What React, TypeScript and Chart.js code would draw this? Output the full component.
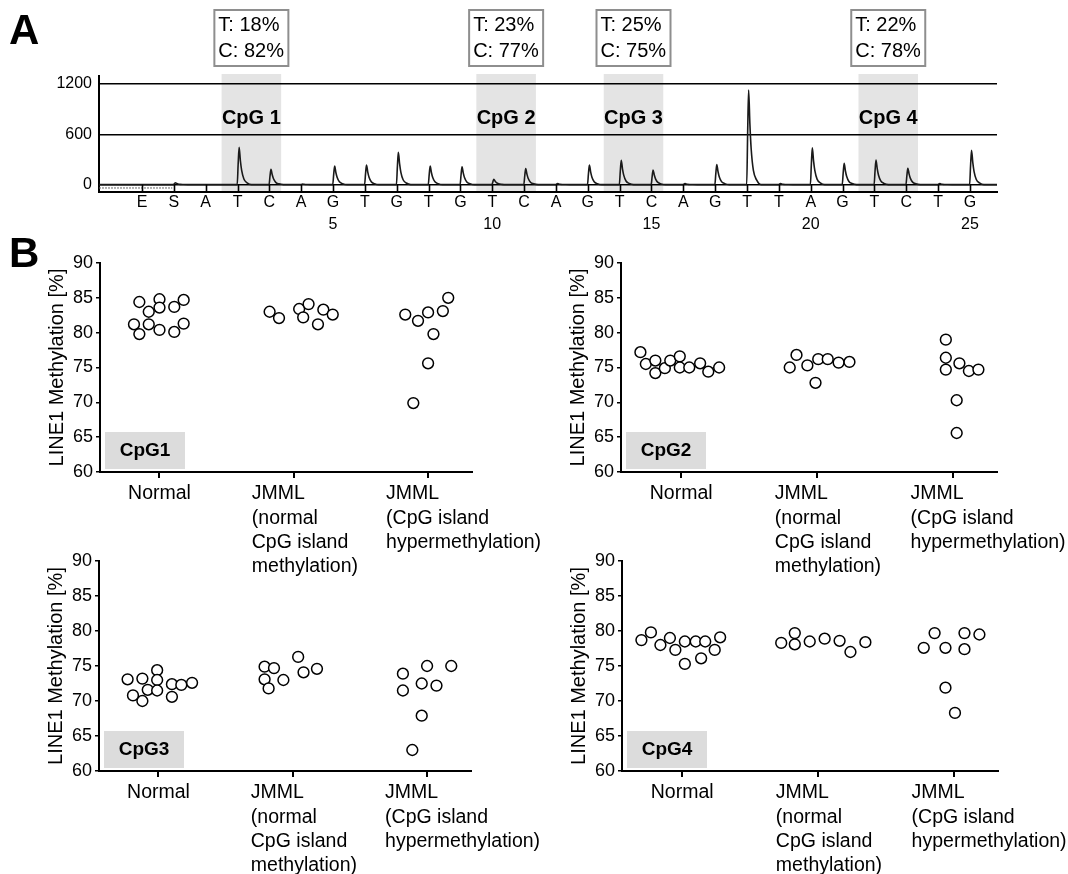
import React, { useEffect, useRef } from 'react';
import { Chart, registerables } from 'chart.js';

Chart.register(...registerables);

const FONT = '"Liberation Sans", Arial, Helvetica, sans-serif';

// ---------------- Panel A : pyrogram ----------------
const dispensations = ['E', 'S', 'A', 'T', 'C', 'A', 'G', 'T', 'G', 'T', 'G', 'T', 'C', 'A', 'G', 'T', 'C', 'A', 'G', 'T', 'T', 'A', 'G', 'T', 'C', 'T', 'G'];
const dispensationNumbers = ['', '', '', '', '', '', '5', '', '', '', '', '10', '', '', '', '', '15', '', '', '', '', '20', '', '', '', '', '25'];
const peakHeights = [0, 22, 0, 445, 183, 6, 222, 234, 385, 222, 214, 63, 192, 12, 234, 290, 174, 12, 240, 1128, 12, 438, 254, 293, 196, 12, 411];
const pyroYTicks = [0, 600, 1200];
const cpgSiteIndex = [3, 11, 15, 23];
const cpgSiteLabels = ['CpG 1', 'CpG 2', 'CpG 3', 'CpG 4'];
const cpgT = [18, 23, 25, 22];
const cpgC = [82, 77, 75, 78];
// shape template of one pyrosequencing peak (offset in dispensations, fraction of peak height)
const peakProfileOffsets = [-0.01, 0.02, 0.05, 0.09, 0.13, 0.2, 0.3, 0.44];
const peakProfileShape = [0, 0.55, 1, 0.64, 0.38, 0.15, 0.05, 0];

// ---------------- Panel B : dot plots ----------------
const groupLabelLines = [
  ['Normal'],
  ['JMML', '(normal', 'CpG island', 'methylation)'],
  ['JMML', '(CpG island', 'hypermethylation)'],
];
const cpgPanelLabels = ['CpG1', 'CpG2', 'CpG3', 'CpG4'];

const cpg1Normal = [84.4, 81.2, 79.8, 83.0, 81.2, 84.8, 83.6, 80.4, 83.7, 80.1, 84.7, 81.3];
const cpg1NormalJitter = [-0.15, -0.19, -0.15, -0.08, -0.08, 0, 0, 0, 0.11, 0.11, 0.18, 0.18];
const cpg1JmmlNormal = [83.0, 82.1, 83.4, 82.2, 84.1, 81.2, 83.3, 82.6];
const cpg1JmmlNormalJitter = [-0.18, -0.11, 0.04, 0.07, 0.11, 0.18, 0.22, 0.29];
const cpg1JmmlHyper = [82.6, 81.7, 82.9, 79.8, 75.6, 69.9, 83.1, 85.0];
const cpg1JmmlHyperJitter = [-0.17, -0.075, 0, 0.04, 0, -0.11, 0.11, 0.15];

const cpg2Normal = [77.2, 75.5, 76.0, 74.2, 74.9, 76.0, 76.6, 75.0, 75.0, 75.6, 74.4, 75.0];
const cpg2NormalJitter = [-0.3, -0.26, -0.19, -0.19, -0.12, -0.08, -0.01, -0.01, 0.06, 0.14, 0.2, 0.28];
const cpg2JmmlNormal = [75.0, 76.8, 75.3, 72.8, 76.2, 76.2, 75.7, 75.8];
const cpg2JmmlNormalJitter = [-0.2, -0.15, -0.07, -0.01, 0.01, 0.08, 0.16, 0.24];
const cpg2JmmlHyper = [79.0, 76.4, 74.7, 75.6, 74.5, 74.7, 70.3, 65.6];
const cpg2JmmlHyperJitter = [-0.05, -0.05, -0.05, 0.05, 0.12, 0.19, 0.03, 0.03];

const cpg3Normal = [73.1, 70.8, 73.2, 70.0, 71.6, 74.4, 73.0, 71.5, 72.4, 70.6, 72.3, 72.6];
const cpg3NormalJitter = [-0.23, -0.19, -0.12, -0.12, -0.08, -0.01, -0.01, -0.01, 0.1, 0.1, 0.17, 0.25];
const cpg3JmmlNormal = [74.9, 74.7, 73.1, 71.8, 73.0, 76.3, 74.1, 74.6];
const cpg3JmmlNormalJitter = [-0.21, -0.14, -0.21, -0.18, -0.07, 0.04, 0.08, 0.18];
const cpg3JmmlHyper = [73.9, 71.5, 75.0, 72.5, 72.2, 75.0, 67.9, 63.0];
const cpg3JmmlHyperJitter = [-0.18, -0.18, 0, -0.04, 0.07, 0.18, -0.04, -0.11];

const cpg4Normal = [78.7, 79.8, 78.0, 79.0, 77.3, 78.5, 75.3, 78.5, 76.1, 78.5, 77.3, 79.1];
const cpg4NormalJitter = [-0.3, -0.23, -0.16, -0.09, -0.05, 0.02, 0.02, 0.1, 0.14, 0.17, 0.24, 0.28];
const cpg4JmmlNormal = [78.3, 79.7, 78.1, 78.5, 78.9, 78.6, 77.0, 78.4];
const cpg4JmmlNormalJitter = [-0.27, -0.17, -0.17, -0.06, 0.05, 0.16, 0.24, 0.35];
const cpg4JmmlHyper = [77.6, 79.7, 77.6, 79.7, 77.4, 79.5, 71.9, 68.3];
const cpg4JmmlHyperJitter = [-0.22, -0.14, -0.06, 0.08, 0.08, 0.19, -0.06, 0.01];

const panelValues = [
  [cpg1Normal, cpg1JmmlNormal, cpg1JmmlHyper],
  [cpg2Normal, cpg2JmmlNormal, cpg2JmmlHyper],
  [cpg3Normal, cpg3JmmlNormal, cpg3JmmlHyper],
  [cpg4Normal, cpg4JmmlNormal, cpg4JmmlHyper],
];
const panelJitters = [
  [cpg1NormalJitter, cpg1JmmlNormalJitter, cpg1JmmlHyperJitter],
  [cpg2NormalJitter, cpg2JmmlNormalJitter, cpg2JmmlHyperJitter],
  [cpg3NormalJitter, cpg3JmmlNormalJitter, cpg3JmmlHyperJitter],
  [cpg4NormalJitter, cpg4JmmlNormalJitter, cpg4JmmlHyperJitter],
];

// layout frames (page pixels) of the four dot plots
const dotFrames = [
  { axisX: 100, axisRight: 472, top: 263, bottom: 472, width: 560 },
  { axisX: 621, axisRight: 997, top: 263, bottom: 472, width: 547 },
  { axisX: 99, axisRight: 471, top: 561, bottom: 771, width: 560 },
  { axisX: 622, axisRight: 998, top: 561, bottom: 771, width: 546 },
];

function PyroChart() {
  const ref = useRef<HTMLCanvasElement>(null);
  useEffect(() => {
    const xMin = -1.35;
    const xMax = 26.85;
    const trace: { x: number; y: number }[] = [{ x: xMin, y: 0 }];
    peakHeights.forEach((h, i) => {
      if (h <= 0) return;
      peakProfileOffsets.forEach((o, k) => trace.push({ x: i + o, y: h * peakProfileShape[k] }));
    });
    trace.push({ x: xMax, y: 0 });

    const overlay = {
      id: 'pyroOverlay',
      beforeDraw(chart: any) {
        const { ctx, chartArea: a } = chart;
        const xs = chart.scales.x;
        ctx.save();
        ctx.fillStyle = '#e4e4e4';
        cpgSiteIndex.forEach((t) => {
          const x0 = xs.getPixelForValue(t - 0.5);
          const x1 = xs.getPixelForValue(t + 1.37);
          ctx.fillRect(x0, a.top - 2, x1 - x0, a.bottom - a.top + 1);
        });
        ctx.restore();
      },
      afterDatasetsDraw(chart: any) {
        const { ctx, chartArea: a } = chart;
        const xs = chart.scales.x;
        const y0 = chart.scales.y.getPixelForValue(0);
        ctx.save();
        ctx.strokeStyle = '#000';
        ctx.lineWidth = 1.6;
        dispensations.forEach((_, i) => {
          const px = Math.round(xs.getPixelForValue(i)) + 0.5;
          ctx.beginPath();
          ctx.moveTo(px, a.bottom);
          ctx.lineTo(px, y0);
          ctx.stroke();
        });
        ctx.restore();
      },
      afterDraw(chart: any) {
        const { ctx, chartArea: a } = chart;
        const xs = chart.scales.x;
        ctx.save();
        ctx.fillStyle = '#000';
        ctx.textBaseline = 'middle';
        cpgSiteIndex.forEach((t, k) => {
          const cx = xs.getPixelForValue(t + 0.435);
          ctx.font = `bold 20px ${FONT}`;
          ctx.textAlign = 'center';
          ctx.fillText(cpgSiteLabels[k], cx, a.top + 42);
          // percentage box
          const bw = 74;
          const bx = cx - bw / 2;
          ctx.strokeStyle = '#8e8e8e';
          ctx.lineWidth = 2;
          ctx.strokeRect(bx, 10, bw, 56);
          ctx.font = `20px ${FONT}`;
          ctx.textAlign = 'left';
          ctx.fillText(`T: ${cpgT[k]}%`, bx + 4, 25);
          ctx.fillText(`C: ${cpgC[k]}%`, bx + 4, 51);
        });
        ctx.restore();
      },
    };

    const chart = new Chart(ref.current as HTMLCanvasElement, {
      type: 'line',
      data: {
        datasets: [
          {
            data: trace,
            borderColor: '#1a1a1a',
            borderWidth: 1.6,
            pointRadius: 0,
            cubicInterpolationMode: 'monotone',
            fill: false,
          },
          {
            data: [{ x: xMin, y: -40 }, { x: 0.95, y: -40 }],
            borderColor: '#666',
            borderWidth: 1,
            borderDash: [2, 1],
            pointRadius: 0,
            fill: false,
          },
        ],
      },
      options: {
        animation: false,
        responsive: false,
        maintainAspectRatio: false,
        layout: { padding: { top: 76, left: 40, right: 71, bottom: 0 } },
        plugins: { legend: { display: false }, tooltip: { enabled: false } },
        scales: {
          x: {
            type: 'linear',
            min: xMin,
            max: xMax,
            afterBuildTicks: (s: any) => {
              s.ticks = dispensations.map((_, i) => ({ value: i }));
            },
            afterFit: (s: any) => {
              s.height = 53;
            },
            ticks: {
              autoSkip: false,
              maxRotation: 0,
              minRotation: 0,
              padding: 0,
              color: '#000',
              font: { size: 16, family: FONT, lineHeight: 1.375 },
              callback: (_v: any, i: number) => [dispensations[i], dispensationNumbers[i]],
            },
            grid: { drawOnChartArea: false, drawTicks: false },
            border: { display: true, color: '#000', width: 2 },
          },
          y: {
            type: 'linear',
            min: -88,
            max: 1296,
            afterBuildTicks: (s: any) => {
              s.ticks = pyroYTicks.map((v) => ({ value: v }));
            },
            afterFit: (s: any) => {
              s.width = 59;
            },
            ticks: {
              padding: 7,
              color: '#000',
              font: { size: 16, family: FONT },
              callback: (v: any) => String(v),
            },
            grid: { color: '#000', lineWidth: 1.5, drawTicks: false },
            border: { display: true, color: '#000', width: 2 },
          },
        },
      } as any,
      plugins: [overlay],
    });
    return () => chart.destroy();
  }, []);
  return (
    <canvas
      ref={ref}
      width={1068}
      height={245}
      style={{ position: 'absolute', left: 0, top: 0, width: 1068, height: 245 }}
    />
  );
}

function DotPlot({ index }: { index: number }) {
  const ref = useRef<HTMLCanvasElement>(null);
  const f = dotFrames[index];
  const padTop = 30;
  const yAxisW = 54.4;
  const padLeft = 45.6;
  const xAxisH = 110;
  const left = f.axisX - (padLeft + yAxisW);
  const top = f.top - padTop;
  const W = f.width;
  const H = padTop + (f.bottom - f.top) + xAxisH;

  useEffect(() => {
    const values = panelValues[index];
    const jitters = panelJitters[index];
    const label = cpgPanelLabels[index];
    const datasets = values.map((ys, g) => ({
      data: ys.map((y, k) => ({ x: g + jitters[g][k], y })),
      pointRadius: 5.4,
      pointBorderWidth: 1.5,
      pointBorderColor: '#000',
      pointBackgroundColor: '#fff',
      borderColor: '#000',
      backgroundColor: '#fff',
      showLine: false,
    }));

    const overlay = {
      id: 'dotOverlay',
      beforeDatasetsDraw(chart: any) {
        const { ctx, chartArea: a } = chart;
        ctx.save();
        ctx.fillStyle = '#dcdcdc';
        ctx.fillRect(a.left + 5, a.bottom - 40, 80, 37);
        ctx.fillStyle = '#000';
        ctx.font = `bold 19px ${FONT}`;
        ctx.textAlign = 'center';
        ctx.textBaseline = 'middle';
        ctx.fillText(label, a.left + 45, a.bottom - 21);
        ctx.restore();
      },
      afterDraw(chart: any) {
        const { ctx, chartArea: a } = chart;
        const xs = chart.scales.x;
        ctx.save();
        ctx.fillStyle = '#000';
        ctx.font = `19.5px ${FONT}`;
        ctx.textBaseline = 'middle';
        groupLabelLines.forEach((lines, g) => {
          const px = xs.getPixelForValue(g);
          lines.forEach((ln, k) => {
            const y = a.bottom + 22 + k * 24.3;
            if (g === 0) {
              ctx.textAlign = 'center';
              ctx.fillText(ln, px, y);
            } else {
              ctx.textAlign = 'left';
              ctx.fillText(ln, px - 42, y);
            }
          });
        });
        ctx.restore();
      },
    };

    const chart = new Chart(ref.current as HTMLCanvasElement, {
      type: 'scatter',
      data: { datasets },
      options: {
        animation: false,
        responsive: false,
        maintainAspectRatio: false,
        layout: { padding: { top: padTop, left: padLeft, right: W - (f.axisRight - left), bottom: 0 } },
        plugins: { legend: { display: false }, tooltip: { enabled: false } },
        scales: {
          x: {
            type: 'linear',
            min: -0.443,
            max: 2.327,
            afterBuildTicks: (s: any) => {
              s.ticks = groupLabelLines.map((_, i) => ({ value: i }));
            },
            afterFit: (s: any) => {
              s.height = xAxisH;
            },
            ticks: { display: false },
            grid: { drawOnChartArea: false, drawTicks: true, tickLength: 6, color: '#000', lineWidth: 2 },
            border: { display: true, color: '#000', width: 2 },
          },
          y: {
            type: 'linear',
            min: 60,
            max: 90,
            ticks: { stepSize: 5, padding: 3, color: '#000', font: { size: 18, family: FONT } },
            afterFit: (s: any) => {
              s.width = yAxisW;
            },
            grid: { drawOnChartArea: false, drawTicks: true, tickLength: 4, color: '#000', lineWidth: 1.5 },
            border: { display: true, color: '#000', width: 2 },
            title: {
              display: true,
              text: 'LINE1 Methylation [%]',
              color: '#000',
              padding: 0,
              font: { size: 20, family: FONT },
            },
          },
        },
      } as any,
      plugins: [overlay],
    });
    return () => chart.destroy();
  }, [index]);

  return (
    <canvas
      ref={ref}
      width={W}
      height={H}
      style={{ position: 'absolute', left, top, width: W, height: H }}
    />
  );
}

export default function App() {
  const letter: React.CSSProperties = {
    position: 'absolute',
    left: 9,
    fontFamily: FONT,
    fontWeight: 'bold',
    fontSize: 42,
    lineHeight: '42px',
    color: '#000',
  };
  return (
    <div
      style={{
        position: 'absolute',
        left: 0,
        top: 0,
        width: 1068,
        height: 874,
        background: '#fff',
        overflow: 'hidden',
      }}
    >
      <PyroChart />
      {dotFrames.map((_, i) => (
        <DotPlot key={i} index={i} />
      ))}
      <div style={{ ...letter, top: 9 }}>A</div>
      <div style={{ ...letter, top: 232 }}>B</div>
    </div>
  );
}
